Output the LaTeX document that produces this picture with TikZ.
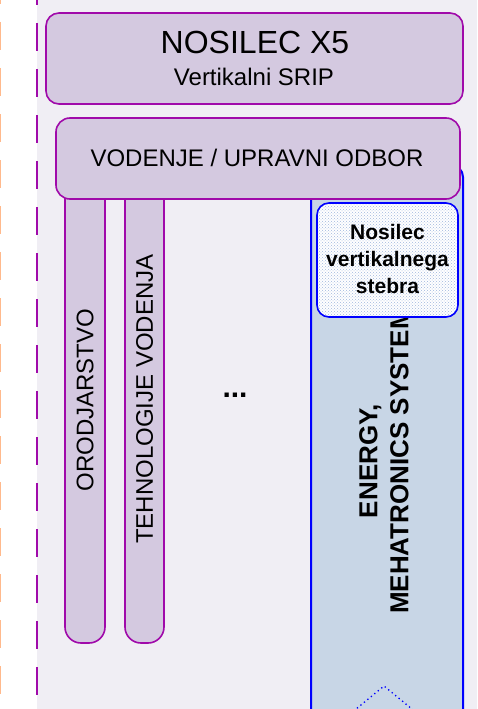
\documentclass[tikz,border=0pt]{standalone}
\usepackage{
	fontspec,			% Fonts
	xcolor
}
\setmainfont{Liberation Sans}
\usetikzlibrary{patterns}
\definecolor{ramka}{RGB}{160,10,170}
\definecolor{polnilo}{RGB}{212,201,224}
\definecolor{ozadje}{RGB}{240,238,244}
\definecolor{oranzna}{RGB}{255,185,140}
\definecolor{modra}{RGB}{0,0,255}
\definecolor{stolpec}{RGB}{200,214,230}
\definecolor{pike}{RGB}{160,182,222}

\begin{document}
\begin{tikzpicture}[x=1pt,y=-1pt,
		okvir/.style={draw=ramka, line width=1.6pt, fill=polnilo},
		crta/.style={line width=2pt, dash pattern=on 28pt off 18pt},
		napis/.style={font=\fontsize{24}{28}\selectfont, inner sep=0pt},
		krepko/.style={font=\bfseries\fontsize{26}{31}\selectfont, inner sep=0pt, align=center}]
		\useasboundingbox (0,0) rectangle (477,709);
		\clip (0,0) rectangle (477,709);
		% ozadje in crte
		\fill[ozadje] (37,0) rectangle (477,709);
		\draw[crta, oranzna] (0,-24)--(0,720);
		\draw[crta, ramka] (37,-23)--(37,720);
		% vertikalni steber
		\draw[draw=modra, line width=2pt, fill=stolpec, rounded corners=12pt] (311,730)--(311,165)--(463,165)--(463,730);
		\node[krepko, rotate=90] (energy) at (384,461) {ENERGY,\\MEHATRONICS SYSTEM};
		\node[draw=modra, line width=1.6pt, rounded corners=12pt, minimum width=141pt, minimum height=114pt,
			preaction={fill=white}, pattern=crosshatch dots, pattern color=pike] (stebra) at (387.5,260) {};
		\node[font=\bfseries\fontsize{21}{27}\selectfont, align=center, inner sep=0pt] (stebratxt) at (387.5,258.5) {Nosilec\\vertikalnega\\stebra};
		\draw[modra, line width=1.3pt, dash pattern=on 1.3pt off 3.2pt] (350,714)--(384,686)--(418,714);
		% naslov
		\node[okvir, rounded corners=13pt, minimum width=417pt, minimum height=91pt] (nosilec) at (254.5,58.5) {};
		\node[font=\fontsize{32}{36}\selectfont, anchor=base, inner sep=0pt] (naslov) at (255,53) {NOSILEC X5};
		\node[napis, anchor=base] (srip) at (254,85) {Vertikalni SRIP};
		% stebri
		\draw[okvir, rounded corners=16pt] (65,140)--(65,643)--(105,643)--(105,140)--cycle;
		\draw[okvir, rounded corners=16pt] (125,140)--(125,643)--(164,643)--(164,140)--cycle;
		\node[napis, rotate=90] (orodjarstvo) at (85,400) {ORODJARSTVO};
		\node[napis, rotate=90] (tehnologije) at (144.5,399) {TEHNOLOGIJE VODENJA};
		\node[font=\bfseries\fontsize{30}{34}\selectfont, anchor=base, inner sep=0pt] (pike) at (235,397) {...};
		% vodenje
		\node[okvir, rounded corners=14pt, minimum width=404pt, minimum height=81pt] (vodenje) at (258,158.5) {};
		\node[napis] (vodenjetxt) at (257,157.5) {VODENJE / UPRAVNI ODBOR};
	\end{tikzpicture}
\end{document}
